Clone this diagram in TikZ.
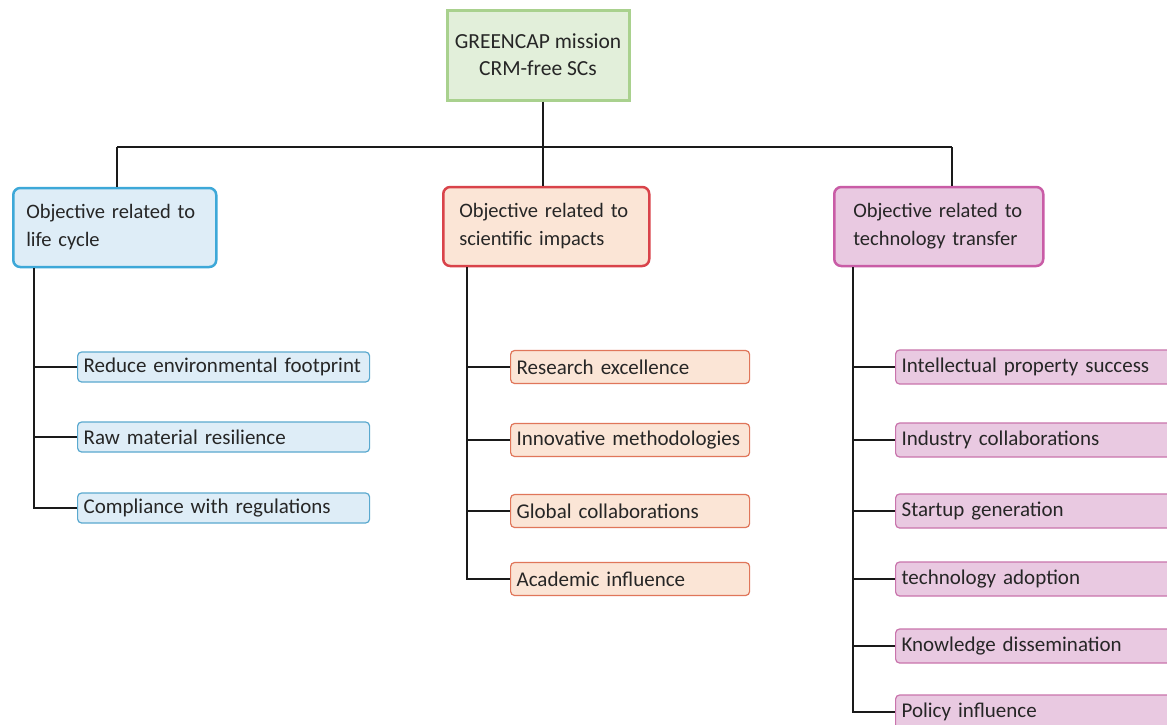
\documentclass[tikz,border=0pt]{standalone}
\usepackage{fontspec}
\setmainfont{Carlito}
\usetikzlibrary{positioning}

\definecolor{topfill}{HTML}{E2EFDA}
\definecolor{topline}{HTML}{A9D18E}
\definecolor{lcfill}{HTML}{DEEDF7}
\definecolor{lcline}{HTML}{3DA8D8}
\definecolor{lcsub}{HTML}{5AA9CF}
\definecolor{sifill}{HTML}{FBE5D6}
\definecolor{siline}{HTML}{D9434A}
\definecolor{sisub}{HTML}{E0765A}
\definecolor{ttfill}{HTML}{E9C9E1}
\definecolor{ttline}{HTML}{C95CA6}
\definecolor{ttsub}{HTML}{C974AC}
\definecolor{linkcol}{HTML}{1A1A1A}

\tikzset{
  link/.style={draw=linkcol, line width=2pt},
  topbox/.style={draw=topline, fill=topfill, line width=3pt, minimum width=182, minimum height=90,
    align=center, font=\fontsize{21.5}{27}\selectfont, text=black!85},
  objbox/.style={rounded corners=7pt, line width=2.5pt, minimum height=79, anchor=west,
    align=left, inner xsep=13pt, font=\fontsize{20.5}{28}\selectfont, text=black!85},
  subbox/.style={rounded corners=4pt, line width=1.2pt, anchor=west, align=left,
    inner xsep=6pt, font=\fontsize{21}{22}\selectfont, text=black!85},
}

\begin{document}
\begin{tikzpicture}[x=1pt,y=1pt,yscale=-1]
\clip (0,0) rectangle (1167,724);
\fill[white] (0,0) rectangle (1167,724);

% mission
\node[topbox] (mission) at (538,55) {GREENCAP mission\\CRM-free SCs};

% objectives
\node[objbox, draw=lcline, fill=lcfill, text width=177] (life) at (12,227.5) {Objective related to\\life cycle};
\node[objbox, draw=siline, fill=sifill, text width=174, inner xsep=16pt] (sci) at (442,226.5) {Objective related to\\scientific impacts};
\node[objbox, draw=ttline, fill=ttfill, text width=171, inner xsep=19pt] (tech) at (833,226.5) {Objective related to\\technology transfer};

% bus
\coordinate (busL) at (117,147);
\coordinate (busM) at (543,147);
\coordinate (busR) at (952,147);
\draw[link] (mission.south -| busM) -- (busM);
\draw[link] (busL) -- (busR);
\draw[link] (busL) -- (busL |- life.north);
\draw[link] (busM) -- (busM |- sci.north);
\draw[link] (busR) -- (busR |- tech.north);

% life cycle
\node[subbox, draw=lcsub, fill=lcfill, text width=280, minimum height=30] (lc1) at (77,367) {Reduce environmental footprint};
\node[subbox, draw=lcsub, fill=lcfill, text width=280, minimum height=30] (lc2) at (77,437) {Raw material resilience};
\node[subbox, draw=lcsub, fill=lcfill, text width=280, minimum height=30] (lc3) at (77,508) {Compliance with regulations};

% scientific impacts
\node[subbox, draw=sisub, fill=sifill, text width=227, minimum height=33] (si1) at (510,367) {Research excellence};
\node[subbox, draw=sisub, fill=sifill, text width=227, minimum height=33] (si2) at (510,440) {Innovative methodologies};
\node[subbox, draw=sisub, fill=sifill, text width=227, minimum height=33] (si3) at (510,511) {Global collaborations};
\node[subbox, draw=sisub, fill=sifill, text width=227, minimum height=33] (si4) at (510,579) {Academic influence};

% technology transfer
\node[subbox, draw=ttsub, fill=ttfill, text width=273, minimum height=34] (tt1) at (895,367) {Intellectual property success};
\node[subbox, draw=ttsub, fill=ttfill, text width=273, minimum height=34] (tt2) at (895,440) {Industry collaborations};
\node[subbox, draw=ttsub, fill=ttfill, text width=273, minimum height=34] (tt3) at (895,511) {Startup generation};
\node[subbox, draw=ttsub, fill=ttfill, text width=273, minimum height=34] (tt4) at (895,579) {technology adoption};
\node[subbox, draw=ttsub, fill=ttfill, text width=273, minimum height=34] (tt5) at (895,646) {Knowledge dissemination};
\node[subbox, draw=ttsub, fill=ttfill, text width=273, minimum height=34] (tt6) at (895,712) {Policy influence};

% trunks
\coordinate (lt) at (34,0);
\coordinate (st) at (467,0);
\coordinate (tt) at (853,0);
\draw[link] (lt |- life.south) |- (lc3.west);
\draw[link] (st |- sci.south) |- (si4.west);
\draw[link] (tt |- tech.south) |- (tt6.west);
\foreach \n in {lc1,lc2} \draw[link] (lt |- \n) -- (\n.west);
\foreach \n in {si1,si2,si3} \draw[link] (st |- \n) -- (\n.west);
\foreach \n in {tt1,tt2,tt3,tt4,tt5} \draw[link] (tt |- \n) -- (\n.west);
\end{tikzpicture}
\end{document}
